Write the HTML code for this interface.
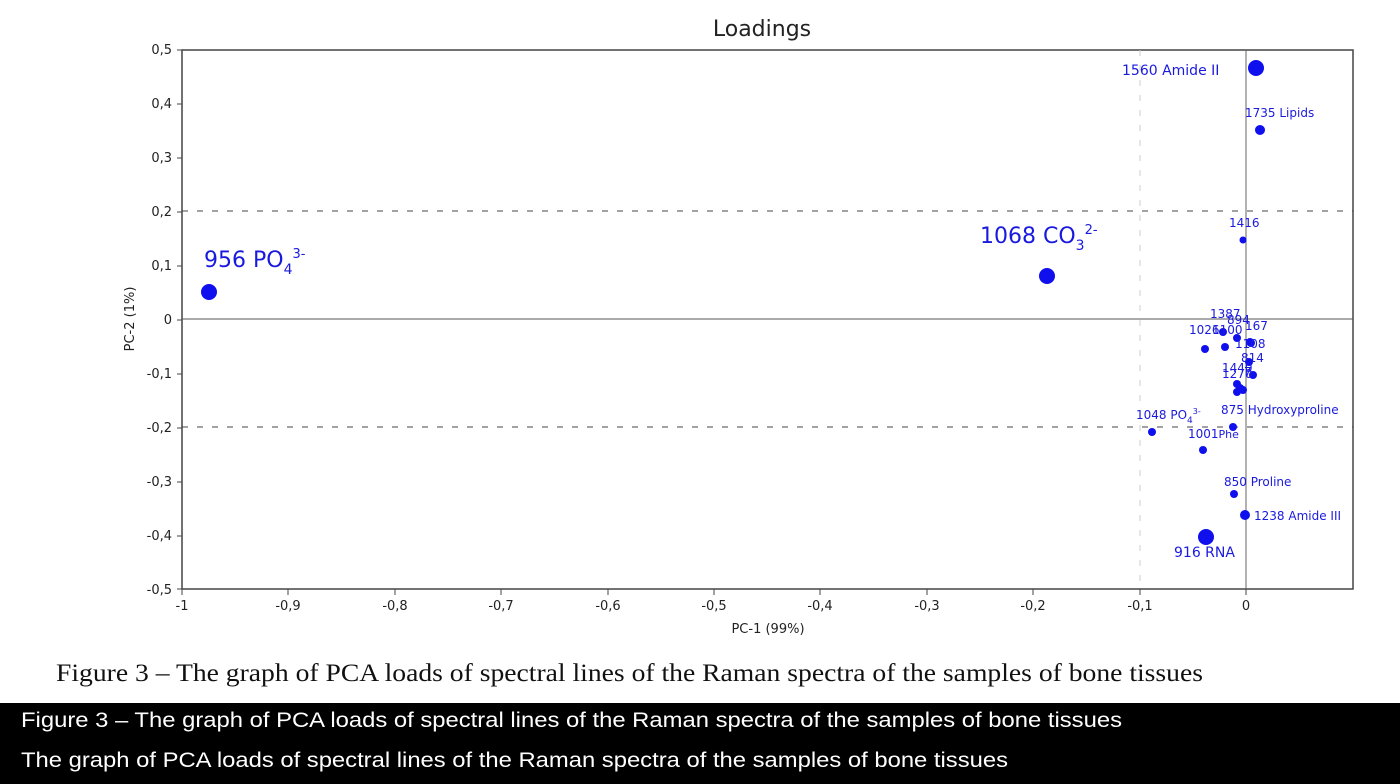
<!DOCTYPE html>
<html><head><style>
body{margin:0;width:1400px;height:784px;background:#fff;overflow:hidden;font-family:"Liberation Sans","DejaVu Sans",sans-serif}
</style></head><body>
<svg width="1400" height="784" style="position:absolute;left:0;top:0" font-family="DejaVu Sans, Liberation Sans, sans-serif">
<text x="762" y="36" font-size="22" text-anchor="middle" fill="#222">Loadings</text>
<rect x="182" y="50" width="1171" height="539" fill="none" stroke="#444" stroke-width="1.5"/>
<line x1="182" y1="319" x2="1353" y2="319" stroke="#555"/>
<line x1="1246" y1="50" x2="1246" y2="589" stroke="#666"/>
<line x1="182" y1="211" x2="1353" y2="211" stroke="#444" stroke-dasharray="6,9"/>
<line x1="182" y1="427" x2="1353" y2="427" stroke="#444" stroke-dasharray="6,9"/>
<line x1="1140" y1="50" x2="1140" y2="589" stroke="#ccc" stroke-dasharray="6,9"/>
<g font-size="13" fill="#222" text-anchor="end">
<text x="172" y="54">0,5</text><text x="172" y="108">0,4</text><text x="172" y="162">0,3</text><text x="172" y="216">0,2</text><text x="172" y="270">0,1</text><text x="172" y="324">0</text><text x="172" y="378">-0,1</text><text x="172" y="432">-0,2</text><text x="172" y="486">-0,3</text><text x="172" y="540">-0,4</text><text x="172" y="594">-0,5</text>
</g>
<g stroke="#444">
<line x1="177" y1="50" x2="182" y2="50"/><line x1="177" y1="104" x2="182" y2="104"/><line x1="177" y1="158" x2="182" y2="158"/><line x1="177" y1="212" x2="182" y2="212"/><line x1="177" y1="266" x2="182" y2="266"/><line x1="177" y1="320" x2="182" y2="320"/><line x1="177" y1="374" x2="182" y2="374"/><line x1="177" y1="428" x2="182" y2="428"/><line x1="177" y1="482" x2="182" y2="482"/><line x1="177" y1="536" x2="182" y2="536"/><line x1="177" y1="589" x2="182" y2="589"/>
<line x1="182" y1="589" x2="182" y2="595"/><line x1="288" y1="589" x2="288" y2="595"/><line x1="395" y1="589" x2="395" y2="595"/><line x1="501" y1="589" x2="501" y2="595"/><line x1="608" y1="589" x2="608" y2="595"/><line x1="714" y1="589" x2="714" y2="595"/><line x1="820" y1="589" x2="820" y2="595"/><line x1="927" y1="589" x2="927" y2="595"/><line x1="1033" y1="589" x2="1033" y2="595"/><line x1="1140" y1="589" x2="1140" y2="595"/><line x1="1246" y1="589" x2="1246" y2="595"/>
</g>
<g font-size="13" fill="#222" text-anchor="middle">
<text x="182" y="610">-1</text><text x="288" y="610">-0,9</text><text x="395" y="610">-0,8</text><text x="501" y="610">-0,7</text><text x="608" y="610">-0,6</text><text x="714" y="610">-0,5</text><text x="820" y="610">-0,4</text><text x="927" y="610">-0,3</text><text x="1033" y="610">-0,2</text><text x="1140" y="610">-0,1</text><text x="1246" y="610">0</text>
<text x="768" y="633">PC-1 (99%)</text>
</g>
<text transform="translate(134,319) rotate(-90)" font-size="13" fill="#222" text-anchor="middle">PC-2 (1%)</text>
<g fill="#1010ee">
<circle cx="209" cy="292" r="8"/><circle cx="1047" cy="276" r="8"/><circle cx="1256" cy="68" r="8"/><circle cx="1260" cy="130" r="5"/><circle cx="1243" cy="240" r="3.5"/><circle cx="1206" cy="537" r="8"/><circle cx="1245" cy="515" r="5"/><circle cx="1234" cy="494" r="4"/><circle cx="1203" cy="450" r="4"/><circle cx="1152" cy="432" r="4"/><circle cx="1233" cy="427" r="4"/>
<circle cx="1205" cy="349" r="4"/><circle cx="1225" cy="347" r="4"/><circle cx="1237" cy="338" r="4"/><circle cx="1251" cy="343" r="4"/><circle cx="1249" cy="362" r="4"/><circle cx="1253" cy="375" r="4"/><circle cx="1237" cy="384" r="4"/><circle cx="1240" cy="388" r="4"/><circle cx="1243" cy="390" r="4"/><circle cx="1237" cy="392" r="4"/><circle cx="1250" cy="342" r="4"/><circle cx="1223" cy="332" r="4"/>
</g>
<g fill="#1a1adf" font-size="12">
<text x="204" y="267" font-size="22">956 PO<tspan font-size="14" dy="7">4</tspan><tspan font-size="13" dy="-16">3-</tspan></text>
<text x="980" y="243" font-size="22">1068 CO<tspan font-size="14" dy="7">3</tspan><tspan font-size="13" dy="-16">2-</tspan></text>
<text x="1122" y="75" font-size="14">1560 Amide II</text>
<text x="1245" y="117">1735 Lipids</text>
<text x="1229" y="227">1416</text>
<text x="1174" y="557" font-size="14">916 RNA</text>
<text x="1254" y="520">1238 Amide III</text>
<text x="1224" y="486">850 Proline</text>
<text x="1221" y="414">875 Hydroxyproline</text>
<text x="1188" y="438">1001<tspan font-size="11">Phe</tspan></text>
<text x="1136" y="419">1048 PO<tspan font-size="9" dy="4">4</tspan><tspan font-size="8" dy="-9">3-</tspan></text>
<text x="1210" y="318">1387</text><text x="1227" y="324">894</text><text x="1245" y="330">167</text>
<text x="1189" y="334">1026</text><text x="1212" y="334">1100</text>
<text x="1235" y="348">1108</text><text x="1241" y="362">814</text>
<text x="1222" y="372">1440</text><text x="1222" y="378">1270</text><text x="1244" y="376">7</text>
</g>
<text x="56" y="681" font-family="Liberation Serif, serif" font-size="25" fill="#111" textLength="1147" lengthAdjust="spacingAndGlyphs">Figure 3 – The graph of PCA loads of spectral lines of the Raman spectra of the samples of bone tissues</text>
<rect x="0" y="703" width="1400" height="81" fill="#000"/>
<text x="21" y="727" font-family="Liberation Sans, sans-serif" font-size="21" fill="#fff" textLength="1101" lengthAdjust="spacingAndGlyphs">Figure 3 – The graph of PCA loads of spectral lines of the Raman spectra of the samples of bone tissues</text>
<text x="21" y="767" font-family="Liberation Sans, sans-serif" font-size="21" fill="#fff" textLength="987" lengthAdjust="spacingAndGlyphs">The graph of PCA loads of spectral lines of the Raman spectra of the samples of bone tissues</text>
</svg>
</body></html>
